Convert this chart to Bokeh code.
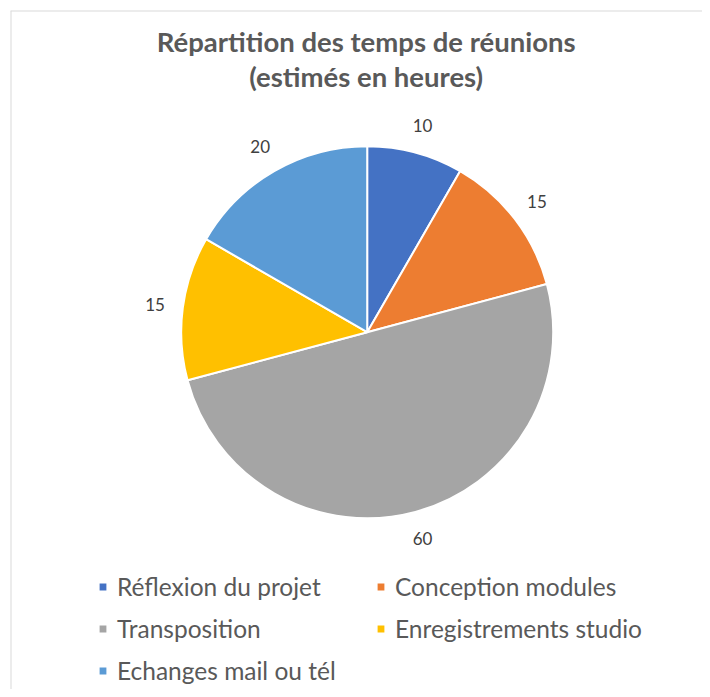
import numpy as np
from bokeh.plotting import figure
from bokeh.models import ColumnDataSource, Range1d, Legend, LegendItem, Span
from bokeh.core.properties import value
from bokeh.embed import file_html
from bokeh.resources import INLINE

# ---- data ----
categories = ["Réflexion du projet", "Conception modules", "Transposition",
              "Enregistrements studio", "Echanges mail ou tél"]
hours = [10, 15, 60, 15, 20]
colors = ["#4472C4", "#ED7D31", "#A5A5A5", "#FFC000", "#5B9BD5"]
title_lines = ["Répartition des temps de réunions", "(estimés en heures)"]

# ---- geometry (1 data unit = 1 px, pie centred at 0,0) ----
R = 186
LABEL_R = 214
vals = np.array(hours, dtype=float)
frac = vals / vals.sum()
cum = np.concatenate([[0], np.cumsum(frac)])
start = np.pi / 2 - cum[:-1] * 2 * np.pi
end = np.pi / 2 - cum[1:] * 2 * np.pi
mid = (start + end) / 2

src = ColumnDataSource(dict(
    cat=categories, hours=hours, color=colors,
    start=start, end=end,
    lx=LABEL_R * np.cos(mid), ly=LABEL_R * np.sin(mid),
    txt=[str(h) for h in hours],
))

W, H = 702, 689
xr = Range1d(-356.7, 335.3)
yr = Range1d(-357.3, 321.7)
p = figure(width=W, height=H, output_backend="svg", toolbar_location=None,
           x_axis_type=None, y_axis_type=None, x_range=xr, y_range=yr,
           min_border=0, min_border_left=10, min_border_top=10,
           outline_line_color=None,
           background_fill_color="white", border_fill_color="white")
p.grid.visible = False

# chart-area border (only left and top edges are visible in the reference)
p.add_layout(Span(location=xr.start, dimension="height", line_color="#d9d9d9", line_width=2))
p.add_layout(Span(location=yr.end, dimension="width", line_color="#d9d9d9", line_width=2))

wedges = p.wedge(x=0, y=0, radius=R, start_angle="start", end_angle="end",
                 direction="clock", fill_color="color", line_color="white",
                 line_width=2, source=src)

p.text(x="lx", y="ly", text="txt", source=src, text_align="center",
       text_baseline="middle", text_font=value("Lato"), text_font_size="17px",
       text_color="#404040")

tsrc = ColumnDataSource(dict(x=[-1, -1], y=[291.2, 256.2], t=title_lines))
p.text(x="x", y="y", text="t", source=tsrc, text_align="center",
       text_baseline="alphabetic", text_font=value("Lato"), text_font_style="bold",
       text_font_size="27.5px", text_color="#595959")

items = [LegendItem(label=c, renderers=[wedges], index=i) for i, c in enumerate(categories)]
legend = Legend(items=items, orientation="horizontal", ncols=2,
                location=(87, 4), padding=0, margin=0,
                border_line_color=None, background_fill_alpha=0,
                glyph_width=11, glyph_height=11, label_standoff=9,
                label_height=30, label_width=246, spacing=12,
                label_text_font="Lato", label_text_font_size="24.5px",
                label_text_color="#595959")
p.add_layout(legend, "center")

open("out.html", "w").write(file_html(p, INLINE))
